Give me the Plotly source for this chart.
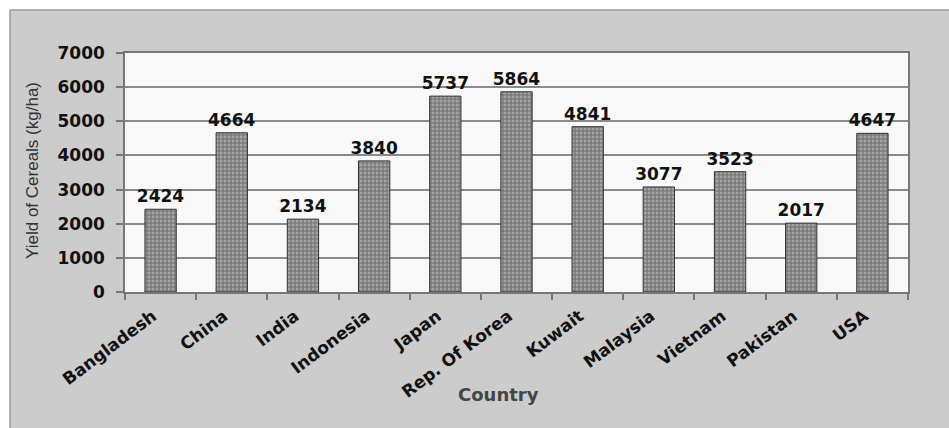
import plotly.graph_objects as go

countries = ["Bangladesh", "China", "India", "Indonesia", "Japan", "Rep. Of Korea",
             "Kuwait", "Malaysia", "Vietnam", "Pakistan", "USA"]
yields = [2424, 4664, 2134, 3840, 5737, 5864, 4841, 3077, 3523, 2017, 4647]
y_ticks = [0, 1000, 2000, 3000, 4000, 5000, 6000, 7000]

W, H = 949, 428
L, R, T, B = 125, 908, 53, 292
pw, ph = R - L, B - T

def px(x):
    return (x - L) / pw

def py(y):
    return (B - y) / ph

bold = dict(family="DejaVu Sans", size=17, color="#111111", weight="bold")

fig = go.Figure()
fig.add_trace(go.Bar(
    x=countries, y=yields,
    text=[str(v) for v in yields], textposition="outside",
    textfont=bold, cliponaxis=False, constraintext="none",
    marker=dict(color="#727272",
                line=dict(color="#333333", width=1),
                pattern=dict(shape="+", fgcolor="#3a3a3a", bgcolor="#a4a4a4",
                             size=4, solidity=0.45)),
    hoverinfo="skip",
))

fig.update_layout(
    width=W, height=H,
    margin=dict(l=L, r=W - R, t=T, b=H - B, autoexpand=False),
    paper_bgcolor="white", plot_bgcolor="#f8f8f8",
    bargap=0.56, showlegend=False,
    shapes=[
        dict(type="rect", xref="paper", yref="paper", layer="below",
             x0=px(10), x1=px(965), y0=py(445), y1=py(10),
             fillcolor="#cccccc", line=dict(color="#9a9a9a", width=1.5)),
        dict(type="rect", xref="paper", yref="paper", layer="below",
             x0=0, x1=1, y0=0, y1=1,
             fillcolor="#f8f8f8", line=dict(width=0)),
    ],
    annotations=[
        dict(text="Yield of Cereals (kg/ha)", textangle=-90, showarrow=False,
             xref="paper", yref="paper", x=px(32), y=py(171),
             xanchor="center", yanchor="middle",
             font=dict(family="Liberation Sans", size=17, color="#333333")),
        dict(text="Country", showarrow=False,
             xref="paper", yref="paper", x=px(498), y=py(394),
             xanchor="center", yanchor="middle",
             font=dict(family="DejaVu Sans", size=18, color="#444444", weight="bold")),
    ],
)

fig.update_xaxes(
    type="category", tickangle=-37, tickson="boundaries",
    ticks="outside", ticklen=6, tickcolor="#777777", tickwidth=1.5,
    ticklabelstandoff=6, ticklabelshift=-8,
    showline=True, linecolor="#777777", linewidth=1.5, mirror=True,
    tickfont=dict(family="DejaVu Sans", size=17, color="#111111", weight="bold"),
    automargin=False, showgrid=False,
)
fig.update_yaxes(
    range=[0, 7000], tickvals=y_ticks, ticks="outside", ticklen=7,
    tickcolor="#777777", tickwidth=1.5, ticklabelstandoff=8,
    showline=True, linecolor="#777777", linewidth=1.5, mirror=True,
    showgrid=True, gridcolor="#8a8a8a", gridwidth=1.5, zeroline=False,
    tickfont=bold, automargin=False,
)

fig.write_html("out.html", config={"displayModeBar": False},
               post_script="document.body.style.margin='0';")
